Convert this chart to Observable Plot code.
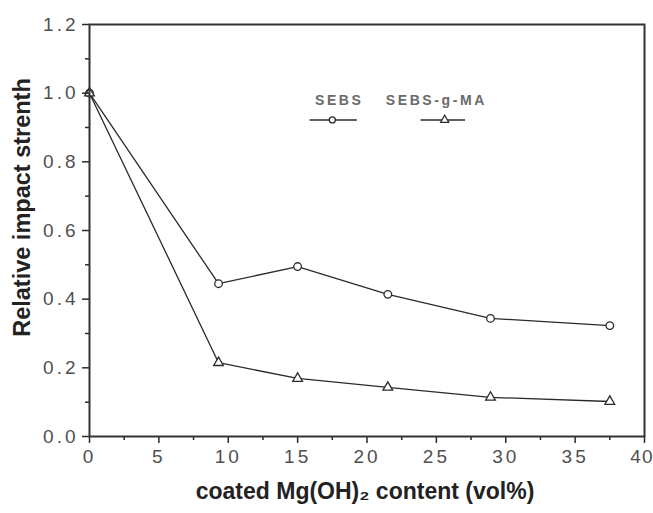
<!DOCTYPE html>
<html><head><meta charset="utf-8">
<script src="https://cdn.jsdelivr.net/npm/d3@7"></script>
<script src="https://cdn.jsdelivr.net/npm/@observablehq/plot@0.6"></script>
<style>
body{margin:0;background:#fff;}
</style>
</head><body><div id="chart"></div>
<script>
const content = [0, 9.3, 15.0, 21.5, 28.9, 37.5];
const sebs = [1.0, 0.445, 0.495, 0.414, 0.344, 0.323];
const sebsGMA = [1.0, 0.215, 0.169, 0.143, 0.114, 0.102];
const seriesNames = ["SEBS", "SEBS-g-MA"];
const xTicks = [0, 5, 10, 15, 20, 25, 30, 35, 40];
const xMinor = [2.5, 7.5, 12.5, 17.5, 22.5, 27.5, 32.5, 37.5];
const yTicks = [0.0, 0.2, 0.4, 0.6, 0.8, 1.0, 1.2];
const yMinor = [0.1, 0.3, 0.5, 0.7, 0.9, 1.1];

const rows = [];
content.forEach((c, i) => {
  rows.push({x: c, y: sebs[i], s: seriesNames[0]});
  rows.push({x: c, y: sebsGMA[i], s: seriesNames[1]});
});
const circ = rows.filter(d => d.s === seriesNames[0]);
const tri = rows.filter(d => d.s === seriesNames[1]);

const legendText = [{x: 18.0, y: 0.98, t: seriesNames[0]}, {x: 25.0, y: 0.98, t: seriesNames[1]}];
const legendLines = [{x1: 15.9, x2: 19.3, y: 0.922}, {x1: 23.9, x2: 27.1, y: 0.922}];

const ink = "#2a2a2a";
const chart = Plot.plot({
  width: 653, height: 513,
  marginLeft: 89, marginTop: 24, marginRight: 9, marginBottom: 77,
  style: {fontFamily: "Liberation Sans, Arial, sans-serif", fontSize: "19px", color: "#505050", background: "#fff"},
  x: {domain: [0, 40]},
  y: {domain: [0, 1.2]},
  marks: [
    Plot.line(rows, {x: "x", y: "y", z: "s", stroke: ink, strokeWidth: 1.3}),
    Plot.dot(circ, {x: "x", y: "y", r: 3.8, symbol: "circle", stroke: ink, fill: "white", strokeWidth: 1.3}),
    Plot.dot(tri, {x: "x", y: "y", r: 3.6, symbol: "triangle", stroke: ink, fill: "white", strokeWidth: 1.3}),
    // legend
    Plot.text(legendText, {x: "x", y: "y", text: "t", fontSize: 14, fontWeight: "bold", fill: "#6a6a6a"}),
    Plot.ruleY(legendLines, {x1: "x1", x2: "x2", y: "y", stroke: ink, strokeWidth: 1.6}),
    Plot.dot([{x: 17.5, y: 0.922}], {x: "x", y: "y", r: 3, symbol: "circle", stroke: ink, fill: "white", strokeWidth: 1.3}),
    Plot.dot([{x: 25.6, y: 0.922}], {x: "x", y: "y", r: 3, symbol: "triangle", stroke: ink, fill: "white", strokeWidth: 1.3}),
    // axes
    Plot.axisX({ticks: xTicks, tickSize: 7, tickPadding: 6, fontSize: 19, tickFormat: d => String(d), label: null, stroke: ink, strokeWidth: 1.5}),
    Plot.axisX({ticks: xMinor, tickSize: 4, tickFormat: () => "", label: null, stroke: ink, strokeWidth: 1.5}),
    Plot.axisY({ticks: yTicks, tickSize: 7, tickPadding: 4, fontSize: 19, tickFormat: d => d.toFixed(1), label: null, stroke: ink, strokeWidth: 1.5}),
    Plot.axisY({ticks: yMinor, tickSize: 4, tickFormat: () => "", label: null, stroke: ink, strokeWidth: 1.5}),
    Plot.frame({stroke: "#333", strokeWidth: 2}),
    Plot.text(["coated Mg(OH)\u2082 content (vol%)"], {frameAnchor: "bottom", dx: -2, dy: 62, fontSize: 23, fontWeight: "bold", fill: "#222"}),
    Plot.text(["Relative impact strenth"], {frameAnchor: "left", textAnchor: "middle", rotate: -90, dx: -67, dy: -23, fontSize: 23.5, fontWeight: "bold", fill: "#222"})
  ]
});
document.getElementById("chart").appendChild(chart);
// letter spacing applied after render
const svg = d3.select(chart);
const spaceText = (test, v) => svg.selectAll("text").filter(function(){ return test(this.textContent); }).attr("letter-spacing", v).style("letter-spacing", v);
spaceText(t => seriesNames.includes(t), "2.6px");
spaceText(t => /^[0-9.]+$/.test(t), "3px");
// keep the last x tick label inside the picture edge
spaceText(t => t === String(xTicks[xTicks.length - 1]), "1px")
  .attr("text-anchor", "end").attr("dx", "9");
</script>
</body></html>
